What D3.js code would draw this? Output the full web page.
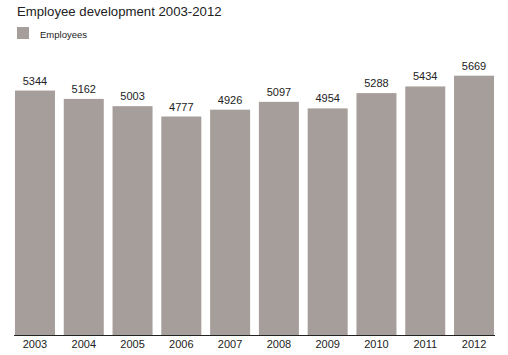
<!DOCTYPE html>
<html><head><meta charset="utf-8">
<script src="https://cdn.jsdelivr.net/npm/d3@7"></script>
<style>body{margin:0;background:#fff;font-family:"Liberation Sans",Arial,sans-serif;}</style>
</head><body>
<svg id="c" width="508" height="355"></svg>
<script>
const years = ["2003","2004","2005","2006","2007","2008","2009","2010","2011","2012"];
const employees = [5344,5162,5003,4777,4926,5097,4954,5288,5434,5669];
const title = "Employee development 2003-2012";
const seriesName = "Employees";

const svg = d3.select("#c");
const color = "#a69e9b";
const x = d3.scaleBand().domain(years).range([14,495]).paddingInner(0.18).paddingOuter(0.02);
const y = d3.scaleLinear().domain([0,5669]).range([335,75.7]);

svg.append("text").attr("x",17).attr("y",16).attr("font-size",13.2).attr("fill","#222").text(title);
svg.append("rect").attr("x",17).attr("y",27).attr("width",12).attr("height",12).attr("fill",color);
svg.append("text").attr("x",40).attr("y",38).attr("font-size",9.5).attr("fill","#222").text(seriesName);

svg.selectAll("rect.bar").data(employees).join("rect").attr("class","bar")
  .attr("x",(d,i)=>x(years[i])).attr("width",x.bandwidth())
  .attr("y",d=>y(d)).attr("height",d=>y(0)-y(d)).attr("fill",color);

svg.selectAll("text.val").data(employees).join("text").attr("class","val")
  .attr("x",(d,i)=>x(years[i])+x.bandwidth()/2).attr("y",d=>y(d)-6)
  .attr("text-anchor","middle").attr("font-size",11).attr("fill","#222").text(d=>d);

const ax = svg.append("g").attr("transform","translate(0,335)").call(d3.axisBottom(x).tickSize(0).tickPadding(5));
ax.select(".domain").attr("stroke","#222").attr("d","M14,0.5H495");
ax.selectAll("text").attr("font-size",11).attr("fill","#222").attr("font-family","Liberation Sans, Arial, sans-serif");
</script>
</body></html>
